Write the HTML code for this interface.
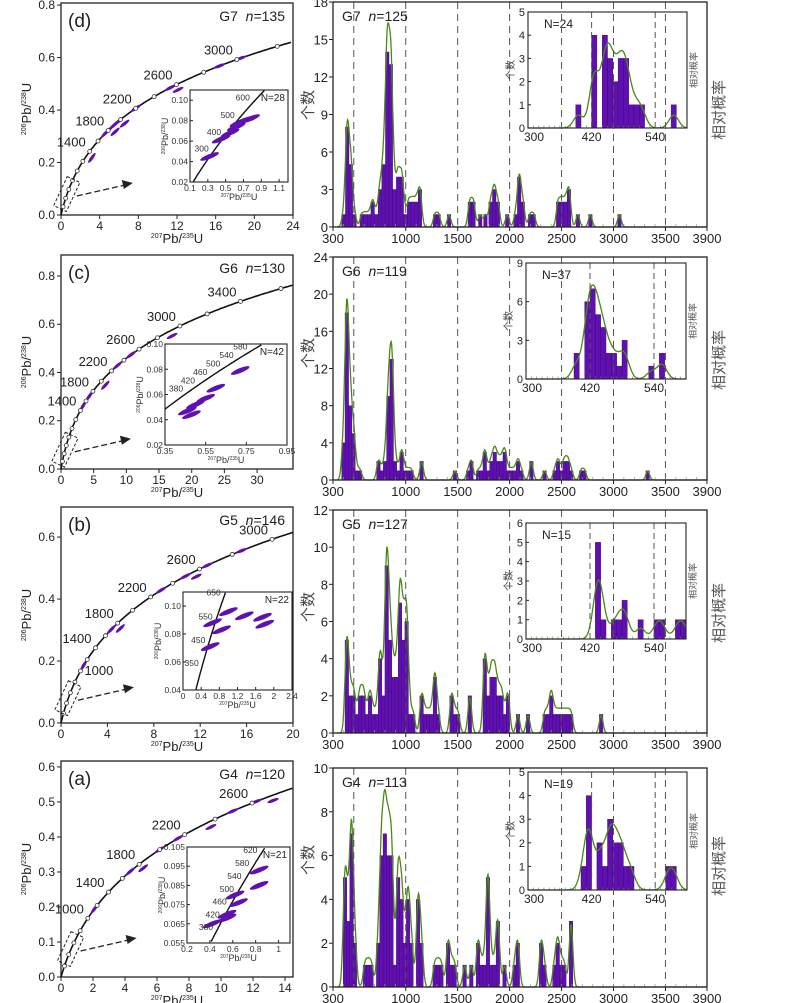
<!DOCTYPE html>
<html><head><meta charset="utf-8">
<style>
html,body{margin:0;padding:0;background:#fff;}
svg{display:block;font-family:"Liberation Sans","Noto Sans CJK SC",sans-serif;}
</style></head>
<body>
<svg id="fig" width="800" height="1003" viewBox="0 0 800 1003" xmlns="http://www.w3.org/2000/svg"></svg>
<script>
// ---------- Histogram data (bin start age Ma, count) ----------
const histAgesD=[385,420,455,490,560,595,630,665,700,735,770,805,840,875,910,945,980,1015,1050,1085,1120,1265,1300,1400,1600,1635,1700,1750,1800,1835,1870,1960,2040,2075,2110,2180,2215,2450,2485,2520,2555,2640,2760,3040];
const histCountsD=[1,8,5,1,1,1,1,2,1,3,5,14,13,3,4,4,1,2,2,2,3,1,1,1,2,2,1,1,2,3,2,1,1,4,2,1,1,2,2,2,3,1,1,1];
const histAgesC=[384,416,448,480,512,544,720,752,784,816,848,880,912,944,976,1008,1040,1136,1456,1584,1616,1680,1712,1744,1776,1808,1840,1872,1904,1936,1968,2000,2032,2064,2096,2192,2320,2416,2448,2480,2512,2544,2576,2672,2704,3312];
const histCountsC=[4,18,8,5,1,1,2,1,2,9,13,2,1,3,1,1,1,2,1,1,2,1,1,3,1,2,3,2,2,3,1,1,1,2,1,2,1,1,2,1,2,2,1,1,1,1];
const histAgesB=[416,448,480,512,544,576,608,640,672,704,736,768,800,832,864,896,928,960,992,1024,1056,1136,1168,1200,1232,1264,1296,1424,1456,1488,1600,1744,1776,1808,1840,1872,1904,1936,1968,2064,2160,2320,2352,2384,2416,2448,2480,2512,2544,2576,2864];
const histCountsB=[5,2,2,1,2,2,1,2,1,1,4,2,9,5,3,3,7,5,6,1,1,2,1,1,1,3,1,2,1,1,2,4,2,3,3,2,2,1,2,1,1,1,1,2,1,1,1,1,1,1,1];
const histAgesA=[398,430,462,494,590,622,654,718,750,782,814,846,878,910,942,974,1006,1038,1102,1134,1262,1294,1326,1390,1422,1454,1550,1614,1678,1710,1742,1774,1806,1838,1870,1934,2030,2062,2286,2318,2414,2446,2478,2510,2574];
const histCountsA=[5,3,7,2,1,1,1,2,6,7,6,6,1,5,4,2,4,2,4,2,1,1,1,2,1,1,1,1,2,1,1,5,1,1,3,1,1,2,2,1,1,2,1,1,3];
const mainXTicks=[300,1000,1500,2000,2500,3000,3500,3900];
const mainDashAges=[500,1000,1500,2000,2500,3000,3500];
// inset histograms (10 Ma bins)
const insAgesD=[390,420,440,450,460,470,480,490,500,510,570];
const insCountsD=[1,4,4,3,2,3,3,1,1,1,1];
const insAgesC=[390,410,420,430,440,450,460,470,480,530,550];
const insCountsC=[2,6,7,5,4,2,2,1,3,1,2];
const insAgesB=[430,440,460,470,480,510,540,550,580,590];
const insCountsB=[5,1,1,1,2,1,1,1,1,1];
const insAgesA=[400,410,430,440,450,460,470,480,490,560,570];
const insCountsA=[1,4,2,1,3,2,2,1,1,1,1];
const insXTicks=[300,420,540];
// concordia ellipse ages (Ma)
const ellAgesD=[1750,1800,1850,1900,1950,2000,2200,2550,2580,2900,3020,1350];
const ellAgesC=[1500,1700,2000,2300,2500,2900];
const ellAgesB=[1100,1700,1780,2300,2500,2550,2650,2850];
const ellAgesA=[1150,1700,1800,2000,2150,2350,2500,2620,2680];
const insEllD=[[0.45,0.062],[0.55,0.068],[0.62,0.074],[0.7,0.08],[0.78,0.082],[0.65,0.078],[0.32,0.045]];
const insEllC=[[0.46,0.047],[0.5,0.052],[0.55,0.057],[0.6,0.065],[0.72,0.079],[0.48,0.044]];
const insEllB=[[1.35,0.093],[1.75,0.092],[0.85,0.083],[1.8,0.087],[0.6,0.071],[0.65,0.088],[1.0,0.096]];
const insEllA=[[0.42,0.065],[0.55,0.068],[0.65,0.076],[0.62,0.08],[0.83,0.085],[0.83,0.093],[0.55,0.07]];

const NS="http://www.w3.org/2000/svg";
const svg=document.getElementById('fig');
function mk(tag,attrs,parent){const e=document.createElementNS(NS,tag);for(const k in attrs)e.setAttribute(k,attrs[k]);(parent||svg).appendChild(e);return e;}
function txt(str,attrs,parent){const e=mk('text',attrs,parent);e.textContent=str;return e;}
const L238=1.55125e-4, L235=9.8485e-4;
function cx(t){return Math.exp(L235*t)-1;} function cy(t){return Math.exp(L238*t)-1;}
const PURPLE="#6010b0", GREEN="#4a8a14";

// ---------- Concordia panels ----------
const conc=[
 {id:'d',x0:61,x1:293,yT:3,y0:215,xmax:24,ymax:0.808,xt:[0,4,8,12,16,20,24],yt:[0,0.2,0.4,0.6,0.8],yd:1,lab:[1400,1800,2200,2600,3000],g:'G7',n:'135',ell:ellAgesD,
  ins:{x0:190,x1:288,yT:90,y0:182,xa:0.1,xb:1.2,ya:0.02,yb:0.11,xt:[0.1,0.3,0.5,0.7,0.9,1.1],yt:[0.02,0.04,0.06,0.08,0.10],yd:2,lab:[300,400,500,600],N:28,e:insEllD}},
 {id:'c',x0:61,x1:293,yT:255,y0:469,xmax:35.5,ymax:0.887,xt:[0,5,10,15,20,25,30],yt:[0,0.2,0.4,0.6,0.8],yd:1,lab:[1400,1800,2200,2600,3000,3400],g:'G6',n:'130',ell:ellAgesC,
  ins:{x0:165,x1:287,yT:344,y0:445,xa:0.35,xb:0.95,ya:0.02,yb:0.10,xt:[0.35,0.55,0.75,0.95],yt:[0.02,0.04,0.06,0.08,0.10],yd:2,lab:[380,420,460,500,540,580],N:42,e:insEllC}},
 {id:'b',x0:61,x1:293,yT:507,y0:723,xmax:20,ymax:0.697,xt:[0,4,8,12,16,20],yt:[0,0.2,0.4,0.6],yd:1,lab:[1000,1400,1800,2200,2600,3000],g:'G5',n:'146',ell:ellAgesB,
  ins:{x0:183,x1:292,yT:592,y0:690,xa:0,xb:2.4,ya:0.04,yb:0.11,xt:[0,0.4,0.8,1.2,1.6,2.0,2.4],yt:[0.04,0.06,0.08,0.10],yd:2,lab:[350,450,550,650],N:22,e:insEllB}},
 {id:'a',x0:61,x1:293,yT:761,y0:977,xmax:14.5,ymax:0.617,xt:[0,2,4,6,8,10,12,14],yt:[0,0.1,0.2,0.3,0.4,0.5,0.6],yd:1,lab:[1000,1400,1800,2200,2600],g:'G4',n:'120',ell:ellAgesA,
  ins:{x0:187,x1:290,yT:847,y0:943,xa:0.2,xb:1.1,ya:0.055,yb:0.105,xt:[0.2,0.4,0.6,0.8,1.0],yt:[0.055,0.065,0.075,0.085,0.095,0.105],yd:3,lab:[380,420,460,500,540,580,620],N:21,e:insEllA}}
];
conc.forEach(p=>{
  const g=mk('g',{});
  
  
  const X=v=>p.x0+(v/p.xmax)*(p.x1-p.x0), Y=v=>p.y0-(v/p.ymax)*(p.y0-p.yT);
  const box=mk('rect',{x:p.x0,y:p.yT,width:p.x1-p.x0,height:p.y0-p.yT,fill:'none',stroke:'#222','stroke-width':1.3},g);
  
  
  p.xt.forEach(v=>{mk('line',{x1:X(v),x2:X(v),y1:p.y0,y2:p.y0+4,stroke:'#222'},g);
    const t=txt(String(v),{x:X(v),y:p.y0+15,'font-size':12,'text-anchor':'middle',fill:'#222'},g);
    
    });
  p.yt.forEach(v=>{mk('line',{x1:p.x0-4,x2:p.x0,y1:Y(v),y2:Y(v),stroke:'#222'},g);
    const t=txt(v.toFixed(p.yd),{x:p.x0-6,y:Y(v)+4,'font-size':12,'text-anchor':'end',fill:'#222'},g);
    
    });
  const xt=mk('text',{x:(p.x0+p.x1)/2,y:p.y0+28,'font-size':13,'text-anchor':'middle',fill:'#222'},g);
  xt.innerHTML='<tspan font-size="7" dy="-5">207</tspan><tspan dy="5">Pb/</tspan><tspan font-size="7" dy="-5">235</tspan><tspan dy="5">U</tspan>';
  
  
  const yc=(p.yT+p.y0)/2;
  const yt=mk('text',{x:0,y:0,'font-size':13,'text-anchor':'middle',fill:'#222',transform:`translate(31,${yc}) rotate(-90)`},g);
  yt.innerHTML='<tspan font-size="7" dy="-5">206</tspan><tspan dy="5">Pb/</tspan><tspan font-size="7" dy="-5">238</tspan><tspan dy="5">U</tspan>';
  
  
  let pts=[];for(let t=0;t<=4500;t+=10){const xv=cx(t);if(xv>p.xmax)break;pts.push(X(xv).toFixed(1)+','+Y(cy(t)).toFixed(1));}
  const cl=mk('polyline',{points:pts.join(' '),fill:'none',stroke:'#111','stroke-width':1.6},g);
  
  
  p.ell.forEach((a,i)=>{if(cx(a)>p.xmax)return;const x=X(cx(a)),y=Y(cy(a));const x2=X(cx(a+20)),y2=Y(cy(a+20));
    const ang=Math.atan2(y2-y,x2-x)*180/Math.PI;const off=(i%3===2)?4:0;
    const e=mk('ellipse',{cx:x+off,cy:y+off,rx:6,ry:1.6,fill:PURPLE,transform:`rotate(${ang} ${x+off} ${y+off})`},g);
    
    });
  for(let t=200;t<=4400;t+=200){const xv=cx(t);if(xv>p.xmax)break;
    const c=mk('circle',{cx:X(xv),cy:Y(cy(t)),r:2,fill:'#fff',stroke:'#333','stroke-width':0.8},g);
    
    }
  p.lab.forEach(a=>{const right=(p.id==='b'&&a===1000);
    const t=txt(String(a),{x:right?X(cx(a))+4:X(cx(a))-4,y:right?Y(cy(a))+4:Y(cy(a))-5,'font-size':13,'text-anchor':right?'start':'end',fill:'#222'},g);
    
    });
  const tl=txt('('+p.id+')',{x:p.x0+7,y:p.yT+24,'font-size':19,fill:'#222'},g);
  
  
  const sl=mk('text',{x:p.x1-8,y:p.yT+18,'font-size':14,'text-anchor':'end',fill:'#222'},g);
  sl.innerHTML=p.g+'&#160;&#160;<tspan font-style="italic">n</tspan>=' + p.n;
  
  
  const bx=X(0.6),by=Y(0.08);
  const db=mk('rect',{x:bx-7,y:by-16,width:14,height:32,fill:'none',stroke:'#222','stroke-dasharray':'3,2',transform:`rotate(25 ${bx} ${by})`},g);
  
  
  const ar=mk('line',{x1:bx+10,y1:by+2,x2:bx+58,y2:by-9,stroke:'#222','stroke-width':1.3,'stroke-dasharray':'6,3'},g);
  
  
  const ah=mk('polygon',{points:`${bx+66},${by-11} ${bx+55},${by-14} ${bx+57},${by-5}`,fill:'#222'},g);
  
  
  const q=p.ins;const IX=v=>q.x0+(v-q.xa)/(q.xb-q.xa)*(q.x1-q.x0), IY=v=>q.y0-(v-q.ya)/(q.yb-q.ya)*(q.y0-q.yT);
  const ig=mk('g',{},g);
  
  
  mk('rect',{x:q.x0,y:q.yT,width:q.x1-q.x0,height:q.y0-q.yT,fill:'#fff',stroke:'#222','stroke-width':1.1},ig);
  q.xt.forEach(v=>{mk('line',{x1:IX(v),x2:IX(v),y1:q.y0,y2:q.y0-3,stroke:'#222'},ig);
    const t=txt(String(v),{x:IX(v),y:q.y0+9,'font-size':8.5,'text-anchor':'middle',fill:'#333'},ig);
    
    });
  q.yt.forEach(v=>{mk('line',{x1:q.x0,x2:q.x0+3,y1:IY(v),y2:IY(v),stroke:'#222'},ig);
    const t=txt(v.toFixed(q.yd),{x:q.x0-2,y:IY(v)+3,'font-size':8.5,'text-anchor':'end',fill:'#333'},ig);
    
    });
  const ixt=mk('text',{x:(q.x0+q.x1)/2,y:q.y0+18,'font-size':9,'text-anchor':'middle',fill:'#333'},ig);
  ixt.innerHTML='<tspan font-size="5" dy="-3">207</tspan><tspan dy="3">Pb/</tspan><tspan font-size="5" dy="-3">235</tspan><tspan dy="3">U</tspan>';
  
  
  const iyt=mk('text',{x:0,y:0,'font-size':9,'text-anchor':'middle',fill:'#333',transform:`translate(${q.x0-22},${(q.yT+q.y0)/2}) rotate(-90)`},ig);
  iyt.innerHTML='<tspan font-size="5" dy="-3">206</tspan><tspan dy="3">Pb/</tspan><tspan font-size="5" dy="-3">238</tspan><tspan dy="3">U</tspan>';
  
  
  let ip=[];for(let t=0;t<=800;t+=5){const xv=cx(t),yv=cy(t);if(xv<q.xa||yv<q.ya)continue;if(xv>q.xb||yv>q.yb)break;ip.push(IX(xv).toFixed(1)+','+IY(yv).toFixed(1));}
  const il=mk('polyline',{points:ip.join(' '),fill:'none',stroke:'#111','stroke-width':1.4},ig);
  
  
  q.e.forEach(d=>{const x=IX(d[0]),y=IY(d[1]);
    const e=mk('ellipse',{cx:x,cy:y,rx:10,ry:2.4,fill:PURPLE,transform:`rotate(-22 ${x} ${y})`},ig);
    
    });
  q.lab.forEach(a=>{const t=txt(String(a),{x:IX(cx(a))-3,y:IY(cy(a))-2,'font-size':8.5,'text-anchor':'end',fill:'#333'},ig);
    
    });
  const nl=txt('N='+q.N,{x:q.x1-3,y:q.yT+11,'font-size':10,'text-anchor':'end',fill:'#222'},ig);
  
  
});

// ---------- Histogram panels ----------
const HX0=333,HX1=707;const HX=a=>HX0+(a-300)/3600*(HX1-HX0);
const hist=[
 {id:'d',yT:2,y0:227,ymax:18,yt:[0,3,6,9,12,15,18],ages:histAgesD,cnt:histCountsD,g:'G7',n:'125',ly:105,ry:110,
  ins:{x0:528,x1:687,yT:12,y0:128,ymax:5,yt:[0,1,2,3,4,5],ages:insAgesD,cnt:insCountsD,N:24}},
 {id:'c',yT:257,y0:480,ymax:24,yt:[0,4,8,12,16,20,24],ages:histAgesC,cnt:histCountsC,g:'G6',n:'119',ly:353,ry:360,
  ins:{x0:526,x1:686,yT:263,y0:379,ymax:9,yt:[0,3,6,9],ages:insAgesC,cnt:insCountsC,N:37}},
 {id:'b',yT:510,y0:733,ymax:12,yt:[0,2,4,6,8,10,12],ages:histAgesB,cnt:histCountsB,g:'G5',n:'127',ly:607,ry:613,
  ins:{x0:526,x1:686,yT:523,y0:639,ymax:6,yt:[0,1,2,3,4,5,6],ages:insAgesB,cnt:insCountsB,N:15}},
 {id:'a',yT:768,y0:987,ymax:10,yt:[0,2,4,6,8,10],ages:histAgesA,cnt:histCountsA,g:'G4',n:'113',ly:860,ry:866,
  ins:{x0:528,x1:687,yT:772,y0:890,ymax:5,yt:[0,1,2,3,4,5],ages:insAgesA,cnt:insCountsA,N:19}}
];
function kde(ages,cnt,w,sig,t){let s=0;for(let i=0;i<ages.length;i++){const c=ages[i]+w/2;s+=cnt[i]*Math.exp(-(t-c)*(t-c)/(2*sig*sig));}return s;}
hist.forEach(p=>{
  const g=mk('g',{});
  
  
  const Y=v=>p.y0-v/p.ymax*(p.y0-p.yT);
  mk('rect',{x:HX0,y:p.yT,width:HX1-HX0,height:p.y0-p.yT,fill:'#fff',stroke:'none'},g);
  const W=34;
  p.ages.forEach((a,i)=>{const b=mk('rect',{x:HX(a),y:Y(p.cnt[i]),width:HX(a+W)-HX(a),height:p.y0-Y(p.cnt[i]),fill:PURPLE,stroke:'#3a0870','stroke-width':0.4},g);
    
    });
  let kp=[];for(let t=340;t<=3900;t+=4){kp.push(HX(t).toFixed(1)+','+Y(Math.min(p.ymax,0.95*kde(p.ages,p.cnt,W,18,t))).toFixed(1));}
  const kl=mk('polyline',{points:kp.join(' '),fill:'none',stroke:GREEN,'stroke-width':1.3},g);
  
  
  const q=p.ins;const IX=a=>q.x0+(a-300)/300*(q.x1-q.x0), IY=v=>q.y0-v/q.ymax*(q.y0-q.yT);
  const ig=mk('g',{},g);
  
  
  mk('rect',{x:q.x0,y:q.yT,width:q.x1-q.x0,height:q.y0-q.yT,fill:'#fff',stroke:'none'},ig);
  q.ages.forEach((a,i)=>{const b=mk('rect',{x:IX(a),y:IY(q.cnt[i]),width:IX(a+10)-IX(a),height:q.y0-IY(q.cnt[i]),fill:PURPLE,stroke:'#3a0870','stroke-width':0.4},ig);
    
    });
  let ikp=[];for(let t=300;t<=600;t+=2){ikp.push(IX(t).toFixed(1)+','+IY(Math.min(q.ymax,kde(q.ages,q.cnt,10,9,t)*0.55)).toFixed(1));}
  const ik=mk('polyline',{points:ikp.join(' '),fill:'none',stroke:GREEN,'stroke-width':1.3},ig);
  
  
  [420,540].forEach(a=>{const d=mk('line',{x1:IX(a),x2:IX(a),y1:q.yT,y2:q.y0,stroke:'#555','stroke-dasharray':'6,4','stroke-width':1},ig);
    
    });
  for(let a=310;a<600;a+=10){mk('line',{x1:IX(a),x2:IX(a),y1:q.y0,y2:q.y0-2.5,stroke:'#777','stroke-width':0.6},ig);}
  mk('rect',{x:q.x0,y:q.yT,width:q.x1-q.x0,height:q.y0-q.yT,fill:'none',stroke:'#222','stroke-width':1.1},ig);
  q.yt.forEach(v=>{mk('line',{x1:q.x0,x2:q.x0+3,y1:IY(v),y2:IY(v),stroke:'#222'},ig);
    const t=txt(String(v),{x:q.x0-3,y:IY(v)+4,'font-size':11,'text-anchor':'end',fill:'#222'},ig);
    
    });
  insXTicks.forEach(v=>{const t=txt(String(v),{x:IX(v)+(v===300?6:0),y:q.y0+13,'font-size':12,'text-anchor':'middle',fill:'#222'},ig);
    
    });
  const nl=txt('N='+q.N,{x:q.x0+16,y:q.yT+16,'font-size':12,fill:'#222'},ig);
  
  
  const iy=txt('个数',{x:0,y:0,'font-size':10,'text-anchor':'middle',fill:'#444',transform:`translate(${q.x0-14},${(q.yT+q.y0)/2}) rotate(-90)`},ig);
  
  
  const ir=txt('相对概率',{x:0,y:0,'font-size':9,'text-anchor':'middle',fill:'#555',transform:`translate(${q.x1+10},${(q.yT+q.y0)/2}) rotate(-90)`},ig);
  
  
  mainDashAges.forEach(a=>{const d=mk('line',{x1:HX(a),x2:HX(a),y1:p.yT,y2:p.y0,stroke:'#555','stroke-dasharray':'7,5','stroke-width':1},g);
    
    });
  for(let a=400;a<3900;a+=100){mk('line',{x1:HX(a),x2:HX(a),y1:p.y0,y2:p.y0-3,stroke:'#999','stroke-width':0.7},g);}
  const fr=mk('rect',{x:HX0,y:p.yT,width:HX1-HX0,height:p.y0-p.yT,fill:'none',stroke:'#222','stroke-width':1.3},g);
  
  
  p.yt.forEach(v=>{mk('line',{x1:HX0-4,x2:HX0,y1:Y(v),y2:Y(v),stroke:'#222'},g);
    const t=txt(String(v),{x:HX0-5,y:Y(v)+5,'font-size':13,'text-anchor':'end',fill:'#222'},g);
    
    });
  mainXTicks.forEach(v=>{mk('line',{x1:HX(v),x2:HX(v),y1:p.y0,y2:p.y0+4,stroke:'#222'},g);
    const t=txt(String(v),{x:HX(v),y:p.y0+16,'font-size':13,'text-anchor':'middle',fill:'#222'},g);
    
    });
  const sl=mk('text',{x:HX0+9,y:p.yT+19,'font-size':14,fill:'#222'},g);
  sl.innerHTML=p.g+'&#160;&#160;<tspan font-style="italic">n</tspan>=' + p.n;
  
  
  const ly=txt('个数',{x:0,y:0,'font-size':15,'text-anchor':'middle',fill:'#444',transform:`translate(313,${p.ly}) rotate(-90)`},g);
  
  
  const ry=txt('相对概率',{x:0,y:0,'font-size':15,'text-anchor':'middle',fill:'#555',transform:`translate(724,${p.ry}) rotate(-90)`},g);
  
  
});
</script>
</body></html>
